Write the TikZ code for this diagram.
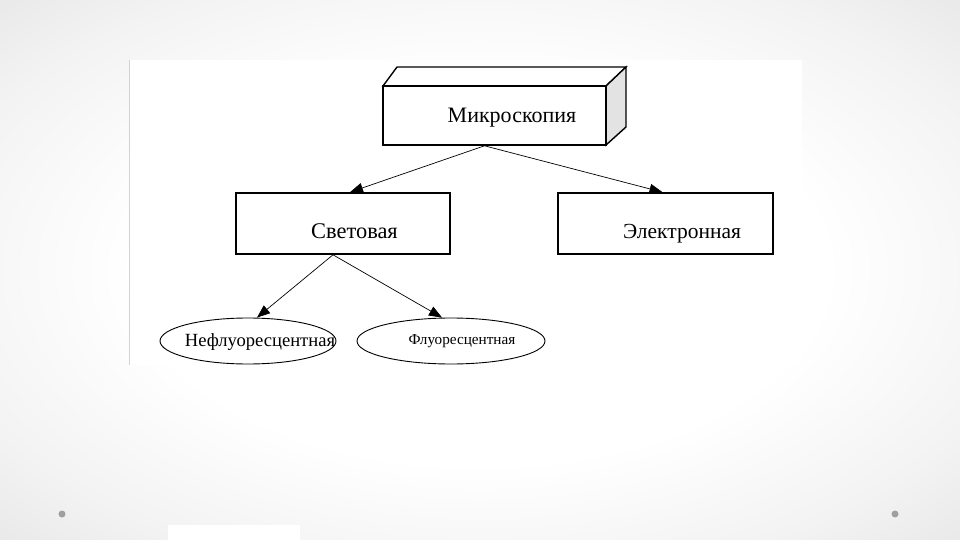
\documentclass[tikz,border=0pt]{standalone}
\usepackage{fontspec}
\setmainfont{Liberation Serif}
\usetikzlibrary{arrows.meta,shapes.geometric}
\pgfdeclareradialshading{bgshade}{\pgfpoint{0bp}{0bp}}{%
  color(0bp)=(white); color(18bp)=(white);
  color(29bp)=(rgb,255:red,243;green,243;blue,243);
  color(40bp)=(rgb,255:red,226;green,226;blue,226);
  color(50bp)=(rgb,255:red,214;green,214;blue,214);
  color(72bp)=(rgb,255:red,205;green,205;blue,205)}
\begin{document}
\begin{tikzpicture}[x=1pt,y=-1pt,
  boxst/.style={draw=black,line width=1.6pt,fill=white,minimum width=#1,minimum height=61pt,inner sep=0pt},
  ellst/.style={draw=black,line width=0.9pt,ellipse,fill=white,minimum width=#1,minimum height=46pt,inner sep=0pt},
  conn/.style={line width=0.7pt,-{Triangle[length=13pt,width=10pt]}},
  lbl/.style={inner sep=0pt,anchor=base,font=\fontsize{#1}{#1}\selectfont}]
\useasboundingbox (0,0) rectangle (960,540);
\shade[shading=bgshade] (0,0) rectangle (960,540);
\fill[white] (168,525) rectangle (300,540);
\fill[white] (130,60) rectangle (802,365);
\draw[gray!35,line width=0.6pt] (129.7,60) -- (129.7,365);
\fill[gray!75] (62,514) circle (3.5);
\fill[gray!75] (895,514) circle (3.5);
% main 3D box
\filldraw[fill=white,draw=black,line width=1.4pt] (383,86) -- (397,67) -- (626,67) -- (606,86) -- cycle;
\filldraw[fill=gray!22,draw=black,line width=1.4pt] (606,86) -- (626,67) -- (626,127) -- (606,145) -- cycle;
\node[boxst=223pt,minimum height=59pt] (main) at (494.5,115.5) {};
\node[lbl=22] (maint) at (512,123) {Микроскопия};
% second level
\node[boxst=214pt] (sv) at (343,223.5) {};
\node[lbl=22.4] (svt) at (354.5,238) {Световая};
\node[boxst=215pt] (el) at (665.5,223.5) {};
\node[lbl=21.5] (elt) at (682,238) {Электронная};
% third level
\node[ellst=176pt] (e1) at (248,341) {};
\node[lbl=18.6] (e1t) at (260,346) {Нефлуоресцентная};
\node[ellst=188pt] (e2) at (451,341) {};
\node[lbl=15.2] (e2t) at (462,344) {Флуоресцентная};
% connectors
\coordinate (ms) at ([xshift=-10pt]main.south);
\coordinate (ss) at ([xshift=-10pt]sv.south);
\draw[conn] (ms) -- ([xshift=7pt]sv.north);
\draw[conn] (ms) -- ([xshift=-3pt]el.north);
\draw[conn] (ss) -- ([xshift=9pt]e1.north);
\draw[conn] (ss) -- ([xshift=-9pt]e2.north);
\end{tikzpicture}
\end{document}
